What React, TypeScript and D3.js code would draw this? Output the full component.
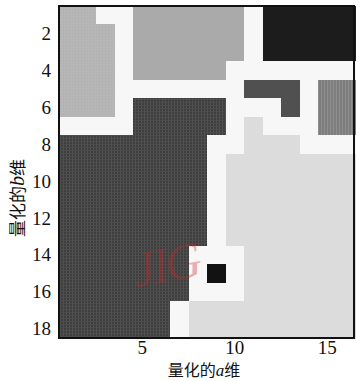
import React from "react";
import * as d3 from "d3";

// Quantised grid: 18 rows (b dimension) x 16 columns (a dimension)
const rowCodes: string[] = [
  "AAWWBBBBBBWKKKKK",
  "AAAWBBBBBBWKKKKK",
  "AAAWBBBBBBWKKKKK",
  "AAAWBBBBBWWWWWWW",
  "AAAWWWWWWWLLLWRR",
  "AAAWDDDDDWWWLWRR",
  "WWWWDDDDDWGWWWRR",
  "DDDDDDDDWWGGGWWW",
  "DDDDDDDDWGGGGGGG",
  "DDDDDDDDWGGGGGGG",
  "DDDDDDDDWGGGGGGG",
  "DDDDDDDDWGGGGGGG",
  "DDDDDDDDWGGGGGGG",
  "DDDDDDDWWWGGGGGG",
  "DDDDDDDWSWGGGGGG",
  "DDDDDDDWWWGGGGGG",
  "DDDDDDWGGGGGGGGG",
  "DDDDDDWGGGGGGGGG",
];
const codes = ["W", "A", "B", "K", "D", "L", "R", "G", "S"];
const codeFills = [
  "#f7f7f7",
  "url(#patA)",
  "#aaaaaa",
  "#1c1c1c",
  "url(#patD)",
  "#505050",
  "url(#patR)",
  "#dcdcdc",
  "#121212",
];
const xTicks = [5, 10, 15];
const yTicks = [2, 4, 6, 8, 10, 12, 14, 16, 18];
const xLabel = "量化的";
const xLabelVar = "a";
const yLabel = "量化的";
const yLabelVar = "b";
const labelEnd = "维";

export default function App() {
  const W = 356, H = 381;
  const left = 59, right = 355, top = 6, bottom = 338;
  const nCols = rowCodes[0].length;
  const nRows = rowCodes.length;
  const x = d3.scaleLinear().domain([0.5, nCols + 0.5]).range([left, right]);
  const y = d3.scaleLinear().domain([0.5, nRows + 0.5]).range([top, bottom]);
  const fill = d3.scaleOrdinal<string, string>().domain(codes).range(codeFills);

  const cells: { r: number; c: number; code: string }[] = [];
  rowCodes.forEach((row, ri) => {
    row.split("").forEach((code, ci) => cells.push({ r: ri + 1, c: ci + 1, code }));
  });

  const font = "'Liberation Serif', 'Times New Roman', serif";
  const cjk = "'Noto Sans CJK SC', 'Liberation Serif', serif";

  return (
    <svg width={W} height={H} style={{ position: "absolute", left: 0, top: 0, background: "#fff" }}>
      <defs>
        <pattern id="patD" width="3" height="3" patternUnits="userSpaceOnUse">
          <rect width="3" height="3" fill="#3e3e3e" />
          <rect width="1" height="3" fill="#525252" />
          <rect width="3" height="1" fill="#4c4c4c" />
        </pattern>
        <pattern id="patA" width="3" height="3" patternUnits="userSpaceOnUse">
          <rect width="3" height="3" fill="#b6b6b6" />
          <rect width="1" height="1" fill="#adadad" />
        </pattern>
        <pattern id="patR" width="3" height="3" patternUnits="userSpaceOnUse">
          <rect width="3" height="3" fill="#7e7e7e" />
          <rect width="1" height="3" fill="#8e8e8e" />
        </pattern>
      </defs>
      <rect x={0} y={0} width={W} height={H} fill="#fff" />
      <g shapeRendering="crispEdges">
        {cells.map((d, i) => (
          <rect
            key={i}
            x={x(d.c - 0.5)}
            y={y(d.r - 0.5)}
            width={x(d.c + 0.5) - x(d.c - 0.5) + 0.5}
            height={y(d.r + 0.5) - y(d.r - 0.5) + 0.5}
            fill={fill(d.code)}
          />
        ))}
      </g>
      <text
        x={136}
        y={287}
        fontFamily={font}
        fontStyle="italic"
        fontSize={50}
        fill="rgba(200,40,40,0.35)"
        transform="rotate(-10 136 287)"
        letterSpacing={-3}
      >
        JIG
      </text>
      <rect
        x={left}
        y={top}
        width={right - left - 1}
        height={bottom - top}
        fill="none"
        stroke="#111"
        strokeWidth={2}
      />
      {xTicks.map((t) => (
        <text key={t} x={x(t)} y={354} textAnchor="middle" fontFamily={font} fontSize={19} fill="#111">
          {t}
        </text>
      ))}
      {yTicks.map((t) => (
        <text key={t} x={51} y={y(t)} dy="0.34em" textAnchor="end" fontFamily={font} fontSize={19} fill="#111">
          {t}
        </text>
      ))}
      <text x={204} y={376} textAnchor="middle" fontFamily={cjk} fontSize={16} fill="#111">
        {xLabel}
        <tspan fontFamily={font} fontStyle="italic" fontSize={17}>{xLabelVar}</tspan>
        {labelEnd}
      </text>
      <text
        transform={`translate(24, 198) rotate(-90)`}
        textAnchor="middle"
        fontFamily={cjk}
        fontSize={17}
        fill="#111"
      >
        {yLabel}
        <tspan fontFamily={font} fontStyle="italic" fontSize={20}>{yLabelVar}</tspan>
        {labelEnd}
      </text>
    </svg>
  );
}
